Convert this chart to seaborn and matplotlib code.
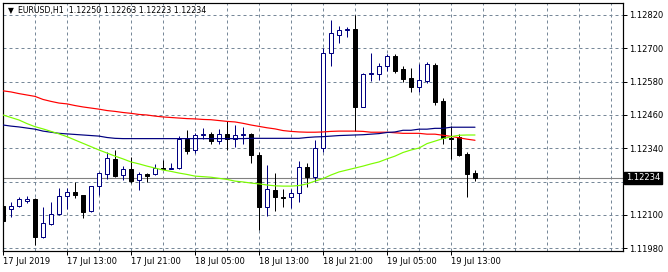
import matplotlib
matplotlib.use("Agg")
import matplotlib.pyplot as plt
from matplotlib.ticker import FixedLocator, MultipleLocator, FuncFormatter
import numpy as np
import pandas as pd
import seaborn as sns

# ---------------- data ----------------
symbol = "EURUSD,H1"
opens = [1.12134, 1.12120, 1.12133, 1.12151, 1.12158, 1.12020, 1.12067, 1.12103, 1.12167, 1.12182,
         1.12171, 1.12113, 1.12203, 1.12247, 1.12302, 1.12243, 1.12265, 1.12225, 1.12247, 1.12247,
         1.12269, 1.12266, 1.12269, 1.12373, 1.12334, 1.12387, 1.12392, 1.12365, 1.12392, 1.12373,
         1.12387, 1.12392, 1.12316, 1.12128, 1.12190, 1.12164, 1.12164, 1.12178, 1.12272, 1.12238,
         1.12342, 1.12682, 1.12747, 1.12765, 1.12769, 1.12490, 1.12606, 1.12608, 1.12636, 1.12672,
         1.12626, 1.12592, 1.12562, 1.12581, 1.12640, 1.12510, 1.12378, 1.12382, 1.12320, 1.12250]
highs = [1.12140, 1.12147, 1.12164, 1.12168, 1.12160, 1.12128, 1.12146, 1.12196, 1.12197, 1.12220,
         1.12173, 1.12206, 1.12255, 1.12326, 1.12334, 1.12275, 1.12308, 1.12254, 1.12250, 1.12283,
         1.12298, 1.12288, 1.12386, 1.12406, 1.12394, 1.12413, 1.12399, 1.12411, 1.12437, 1.12425,
         1.12416, 1.12396, 1.12328, 1.12280, 1.12250, 1.12194, 1.12193, 1.12294, 1.12286, 1.12370,
         1.12700, 1.12802, 1.12780, 1.12776, 1.12820, 1.12612, 1.12684, 1.12648, 1.12679, 1.12680,
         1.12636, 1.12629, 1.12644, 1.12652, 1.12648, 1.12520, 1.12420, 1.12392, 1.12328, 1.12263]
lows = [1.12070, 1.12094, 1.12128, 1.12144, 1.11992, 1.12018, 1.12065, 1.12101, 1.12123, 1.12162,
        1.12090, 1.12110, 1.12171, 1.12231, 1.12238, 1.12225, 1.12214, 1.12189, 1.12220, 1.12243,
        1.12264, 1.12264, 1.12267, 1.12320, 1.12322, 1.12373, 1.12356, 1.12356, 1.12334, 1.12346,
        1.12356, 1.12286, 1.12046, 1.12096, 1.12116, 1.12128, 1.12124, 1.12148, 1.12202, 1.12220,
        1.12328, 1.12637, 1.12720, 1.12740, 1.12403, 1.12488, 1.12584, 1.12586, 1.12617, 1.12610,
        1.12580, 1.12544, 1.12544, 1.12576, 1.12496, 1.12356, 1.12301, 1.12314, 1.12166, 1.12223]
closes = [1.12078, 1.12131, 1.12157, 1.12158, 1.12022, 1.12070, 1.12103, 1.12167, 1.12182, 1.12172,
          1.12112, 1.12203, 1.12250, 1.12304, 1.12242, 1.12265, 1.12224, 1.12247, 1.12242, 1.12269,
          1.12266, 1.12269, 1.12375, 1.12331, 1.12387, 1.12392, 1.12365, 1.12392, 1.12373, 1.12387,
          1.12392, 1.12315, 1.12128, 1.12193, 1.12164, 1.12161, 1.12178, 1.12272, 1.12238, 1.12340,
          1.12682, 1.12754, 1.12765, 1.12769, 1.12490, 1.12608, 1.12610, 1.12636, 1.12672, 1.12620,
          1.12591, 1.12562, 1.12585, 1.12644, 1.12508, 1.12378, 1.12374, 1.12316, 1.12248, 1.12234]
ma_red = [1.12547, 1.12543, 1.12537, 1.12532, 1.12527, 1.12516, 1.12509, 1.12503, 1.12500, 1.12494,
          1.12489, 1.12485, 1.12481, 1.12476, 1.12473, 1.12469, 1.12466, 1.12462, 1.12460, 1.12456,
          1.12453, 1.12451, 1.12449, 1.12447, 1.12446, 1.12444, 1.12443, 1.12440, 1.12437, 1.12435,
          1.12430, 1.12424, 1.12419, 1.12414, 1.12410, 1.12404, 1.12401, 1.12399, 1.12398, 1.12398,
          1.12399, 1.12401, 1.12402, 1.12402, 1.12402, 1.12401, 1.12398, 1.12398, 1.12398, 1.12396,
          1.12394, 1.12394, 1.12394, 1.12391, 1.12391, 1.12387, 1.12383, 1.12378, 1.12373, 1.12369]
ma_blue = [1.12424, 1.12420, 1.12417, 1.12413, 1.12409, 1.12402, 1.12398, 1.12394, 1.12392, 1.12390,
           1.12388, 1.12386, 1.12384, 1.12379, 1.12376, 1.12375, 1.12375, 1.12375, 1.12375, 1.12375,
           1.12375, 1.12375, 1.12375, 1.12375, 1.12375, 1.12375, 1.12375, 1.12375, 1.12375, 1.12375,
           1.12375, 1.12376, 1.12376, 1.12376, 1.12376, 1.12376, 1.12376, 1.12376, 1.12379, 1.12381,
           1.12382, 1.12384, 1.12386, 1.12387, 1.12388, 1.12389, 1.12391, 1.12393, 1.12397, 1.12399,
           1.12405, 1.12405, 1.12409, 1.12409, 1.12412, 1.12412, 1.12416, 1.12416, 1.12416, 1.12416]
ma_green = [1.12460, 1.12451, 1.12442, 1.12429, 1.12418, 1.12410, 1.12401, 1.12392, 1.12382, 1.12370,
            1.12358, 1.12346, 1.12334, 1.12323, 1.12312, 1.12302, 1.12291, 1.12284, 1.12276, 1.12269,
            1.12262, 1.12257, 1.12251, 1.12246, 1.12240, 1.12238, 1.12236, 1.12232, 1.12228, 1.12222,
            1.12219, 1.12215, 1.12212, 1.12208, 1.12205, 1.12204, 1.12204, 1.12206, 1.12212, 1.12222,
            1.12231, 1.12244, 1.12255, 1.12262, 1.12269, 1.12276, 1.12284, 1.12291, 1.12302, 1.12312,
            1.12325, 1.12334, 1.12341, 1.12357, 1.12366, 1.12375, 1.12382, 1.12387, 1.12388, 1.12388]
time_labels = ["17 Jul 2019", "17 Jul 13:00", "17 Jul 21:00", "18 Jul 05:00",
               "18 Jul 13:00", "18 Jul 21:00", "19 Jul 05:00", "19 Jul 13:00"]
time_label_bars = [0, 8, 16, 24, 32, 40, 48, 56]
price_ticks = [1.11980, 1.12100, 1.12220, 1.12340, 1.12460, 1.12580, 1.12700, 1.12820]

# ---------------- style ----------------
sns.set_style("white")
plt.rcParams["font.family"] = ["DejaVu Sans"]

PX = 0.72  # one pixel in points at dpi 100
GRID = "#778899"
NAVY = "#000080"

fig = plt.figure(figsize=(6.68, 2.72), dpi=100)
fig.patch.set_facecolor("white")
ax = fig.add_axes([2.5 / 668, 21.5 / 272, 620 / 668, 248 / 272])
ax.set_facecolor("white")

bars = np.arange(len(opens))
df = pd.DataFrame({"bar": bars, "open": opens, "high": highs, "low": lows, "close": closes,
                   "red": ma_red, "blue": ma_blue, "green": ma_green})
up = df["close"] >= df["open"]

# wicks
ax.vlines(df["bar"], df["low"], df["high"],
          colors=np.where(up, NAVY, "black"), linewidth=PX, zorder=3)
# bodies
body_bottom = np.minimum(df["open"], df["close"])
body_height = (df["close"] - df["open"]).abs()
ax.bar(df["bar"], body_height, bottom=body_bottom, width=0.5,
       color=np.where(up, "white", "black"), edgecolor=np.where(up, NAVY, "black"),
       linewidth=PX, zorder=4)

# moving averages via seaborn
sns.lineplot(data=df, x="bar", y="red", color="#FF0000", linewidth=PX * 1.2, ax=ax, zorder=5, estimator=None)
sns.lineplot(data=df, x="bar", y="blue", color=NAVY, linewidth=PX * 1.2, ax=ax, zorder=5, estimator=None)
sns.lineplot(data=df, x="bar", y="green", color="#7CFC00", linewidth=PX * 1.2, ax=ax, zorder=5, estimator=None)

# current price line
last_price = closes[-1]
ax.axhline(last_price, color="#808080", linewidth=PX * 1.1, zorder=2)

# axes limits
ax.set_xlim(-0.0625, -0.0625 + 620 / 8)
ax.set_ylim(1.12820 - 235.5 * 0.000036, 1.12820 + 12.5 * 0.000036)
ax.set_xlabel("")
ax.set_ylabel("")

# y axis on right
ax.yaxis.tick_right()
ax.yaxis.set_major_locator(FixedLocator(price_ticks))
ax.yaxis.set_major_formatter(FuncFormatter(lambda v, p: f"{v:.5f}"))
ax.tick_params(axis="y", which="major", direction="out", length=3, width=PX,
               color="black", labelsize=6, pad=2, labelcolor="black", right=True, left=False)

# x axis
ax.xaxis.set_major_locator(FixedLocator(time_label_bars))
ax.set_xticklabels(time_labels)
ax.xaxis.set_minor_locator(MultipleLocator(4))
ax.tick_params(axis="x", which="major", direction="out", length=3, width=PX,
               color="black", labelsize=6, pad=2, labelcolor="black", bottom=True)
ax.tick_params(axis="x", which="minor", length=0)
for lbl in ax.get_xticklabels():
    lbl.set_ha("left")

# grid
ax.grid(True, which="major", axis="y", color=GRID, linestyle=(0, (3, 3)), linewidth=PX, zorder=0)
ax.grid(True, which="both", axis="x", color=GRID, linestyle=(0, (3, 3)), linewidth=PX, zorder=0)
ax.set_axisbelow(True)

for s in ax.spines.values():
    s.set_color("black")
    s.set_linewidth(PX * 1.2)
    s.set_visible(True)

# title
ax.text(5 / 620, 1 - 8.5 / 248, "\u25BC", transform=ax.transAxes, fontsize=5.5,
        ha="left", va="center", color="black", zorder=10)
title = f"{symbol}  {opens[-1]:.5f} {highs[-1]:.5f} {lows[-1]:.5f} {closes[-1]:.5f}"
ax.text(16 / 620, 1 - 8 / 248, title, transform=ax.transAxes, fontsize=5.7,
        ha="left", va="center", color="black", zorder=10)

# current price tag
ax.annotate(f"{last_price:.5f}", xy=(1.0, last_price), xycoords=("axes fraction", "data"),
            xytext=(2.5, 0), textcoords="offset points", ha="left", va="center",
            fontsize=6, color="white", annotation_clip=False, zorder=20,
            bbox=dict(boxstyle="square,pad=0.2", fc="black", ec="black"))

fig.savefig("out.png", dpi=100, facecolor="white")
